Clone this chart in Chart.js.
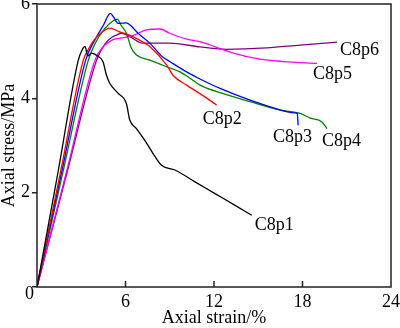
<!DOCTYPE html>
<html>
<head>
<meta charset="utf-8">
<script src="https://cdn.jsdelivr.net/npm/chart.js@4"></script>
<style>
  html, body { margin: 0; padding: 0; background: #fff; }
  #wrap { width: 400px; height: 328px; }
</style>
</head>
<body>
<div id="wrap"><canvas id="chart" width="400" height="328"></canvas></div>
<script>
// ---- data (strain %, stress MPa) ----
const C8P1_STRAIN = [0, 1.45, 2.80, 3.05, 3.25, 3.45, 3.70, 4.10, 4.47, 4.70, 4.93, 5.49, 6.06, 6.29, 6.74, 7.31, 7.87, 8.44, 9.35, 10.71, 12.07, 13.43, 14.56];
const C8P1_STRESS = [0, 2.48, 4.81, 5.02, 5.10, 4.90, 4.96, 4.90, 4.78, 4.50, 4.32, 4.11, 3.89, 3.54, 3.36, 3.11, 2.83, 2.58, 2.48, 2.23, 1.98, 1.73, 1.52];

const C8P2_STRAIN = [0, 1.62, 3.14, 3.50, 3.90, 4.36, 4.93, 5.60, 6.50, 7.42, 7.65, 8.78, 9.22, 10.14, 11.05, 12.18];
const C8P2_STRESS = [0, 2.48, 4.81, 5.05, 5.25, 5.39, 5.49, 5.41, 5.31, 5.15, 5.10, 4.71, 4.49, 4.28, 4.10, 3.86];

const C8P3_STRAIN = [0, 1.70, 3.30, 4.00, 4.50, 4.97, 5.20, 5.49, 6.06, 6.29, 6.85, 7.65, 8.50, 9.00, 10.14, 11.05, 12.41, 14.45, 15.81, 17.50, 17.65, 17.70];
const C8P3_STRESS = [0, 2.48, 4.81, 5.28, 5.55, 5.80, 5.72, 5.59, 5.60, 5.56, 5.38, 5.17, 4.88, 4.78, 4.56, 4.41, 4.21, 3.96, 3.82, 3.69, 3.68, 3.43];

const C8P4_STRAIN = [0, 1.79, 3.48, 4.00, 4.60, 5.10, 5.45, 5.70, 6.06, 6.40, 6.74, 7.65, 8.78, 9.69, 10.50, 11.05, 12.63, 14.45, 16.50, 17.85, 18.53, 19.32, 19.66];
const C8P4_STRESS = [0, 2.48, 4.81, 5.20, 5.48, 5.63, 5.68, 5.55, 5.38, 5.06, 4.92, 4.81, 4.67, 4.56, 4.40, 4.28, 4.10, 3.93, 3.75, 3.68, 3.58, 3.50, 3.36];

const C8P5_STRAIN = [0, 2.03, 3.93, 4.50, 5.13, 5.80, 6.50, 7.42, 8.33, 9.00, 10.10, 11.05, 13.31, 15.12, 16.71, 18.98];
const C8P5_STRESS = [0, 2.48, 4.81, 5.10, 5.24, 5.28, 5.33, 5.45, 5.47, 5.38, 5.26, 5.20, 4.96, 4.83, 4.78, 4.74];

const C8P6_STRAIN = [0, 2.08, 4.04, 4.60, 5.10, 5.38, 5.72, 6.29, 7.17, 9.00, 11.05, 12.86, 15.58, 17.85, 20.34];
const C8P6_STRESS = [0, 2.48, 4.81, 5.15, 5.30, 5.34, 5.38, 5.31, 5.17, 5.17, 5.09, 5.04, 5.07, 5.13, 5.19];

const SERIES_NAMES = ["C8p1", "C8p2", "C8p3", "C8p4", "C8p5", "C8p6"];
const X_TICKS = [0, 6, 12, 18, 24];
const Y_TICKS = [0, 2, 4, 6];

// ---- styles ----
const COLORS = ["#000000", "#ff0000", "#0000ff", "#008000", "#ff00ff", "#800080"];
// label offset (px) from the last point of each curve
const LABEL_OFFSETS = [[3, 10], [-14, 14], [-25, 12], [-5, 13], [-4, 11], [3, 8]];
const FONT = '"Liberation Serif", "DejaVu Serif", serif';

const STRAINS = [C8P1_STRAIN, C8P2_STRAIN, C8P3_STRAIN, C8P4_STRAIN, C8P5_STRAIN, C8P6_STRAIN];
const STRESSES = [C8P1_STRESS, C8P2_STRESS, C8P3_STRESS, C8P4_STRESS, C8P5_STRESS, C8P6_STRESS];

const zip = (xs, ys) => xs.map((x, i) => ({ x, y: ys[i] }));

const datasets = SERIES_NAMES.map((name, i) => ({
  label: name,
  data: zip(STRAINS[i], STRESSES[i]),
  borderColor: COLORS[i],
  borderWidth: 1.3,
  pointRadius: 0,
  fill: false,
  cubicInterpolationMode: "monotone",
}));

// box, inward x ticks, corner zero and curve names
const decor = {
  id: "decor",
  afterDatasetsDraw(chart) {
    const { ctx, chartArea: a, scales: { x, y } } = chart;
    ctx.save();
    ctx.strokeStyle = "#222";
    ctx.lineWidth = 1.5;
    ctx.strokeRect(a.left, a.top, a.right - a.left, a.bottom - a.top);
    ctx.beginPath();
    for (const v of X_TICKS) {
      if (v === X_TICKS[0] || v === X_TICKS[X_TICKS.length - 1]) continue;
      const px = x.getPixelForValue(v);
      ctx.moveTo(px, a.bottom);
      ctx.lineTo(px, a.bottom - 6);
    }
    ctx.stroke();

    ctx.fillStyle = "#000";
    ctx.font = `18px ${FONT}`;
    ctx.textAlign = "right";
    ctx.textBaseline = "middle";
    ctx.fillText("0", a.left - 3, a.bottom + 7);

    ctx.textAlign = "left";
    SERIES_NAMES.forEach((name, i) => {
      const xs = STRAINS[i], ys = STRESSES[i];
      const px = x.getPixelForValue(xs[xs.length - 1]);
      const py = y.getPixelForValue(ys[ys.length - 1]);
      ctx.fillText(name, px + LABEL_OFFSETS[i][0], py + LABEL_OFFSETS[i][1]);
    });
    ctx.restore();
  },
};

new Chart(document.getElementById("chart"), {
  type: "line",
  data: { datasets },
  plugins: [decor],
  options: {
    responsive: false,
    animation: false,
    layout: { padding: { top: 4, right: 9, bottom: 1, left: 0 } },
    plugins: { legend: { display: false }, tooltip: { enabled: false } },
    scales: {
      x: {
        type: "linear",
        min: 0,
        max: 24,
        afterFit: (s) => { s.height = 40; s.paddingLeft = 0; s.paddingRight = 0; },
        afterBuildTicks: (s) => { s.ticks = X_TICKS.map((v) => ({ value: v })); },
        grid: { display: false, drawTicks: false },
        border: { display: false },
        ticks: {
          color: "#000",
          padding: 4,
          maxRotation: 0,
          font: { family: FONT, size: 18 },
          callback: (v) => (v === 0 ? "" : String(v)),
        },
        title: {
          display: true,
          text: "Axial strain/%",
          color: "#000",
          font: { family: FONT, size: 18, lineHeight: 1 },
          padding: { top: 0, bottom: 0 },
        },
      },
      y: {
        min: 0,
        max: 6,
        afterFit: (s) => { s.width = 37; s.paddingTop = 0; s.paddingBottom = 0; },
        afterBuildTicks: (s) => { s.ticks = Y_TICKS.map((v) => ({ value: v })); },
        grid: { drawOnChartArea: false, tickLength: 5, color: "#222", lineWidth: 1.5 },
        border: { display: false },
        ticks: {
          color: "#000",
          padding: 2,
          font: { family: FONT, size: 18 },
          callback: (v) => (v === 0 ? "" : String(v)),
        },
        title: {
          display: true,
          text: "Axial stress/MPa",
          color: "#000",
          font: { family: FONT, size: 18, lineHeight: 1 },
          padding: { top: 0, bottom: 0 },
        },
      },
    },
  },
});
</script>
</body>
</html>
